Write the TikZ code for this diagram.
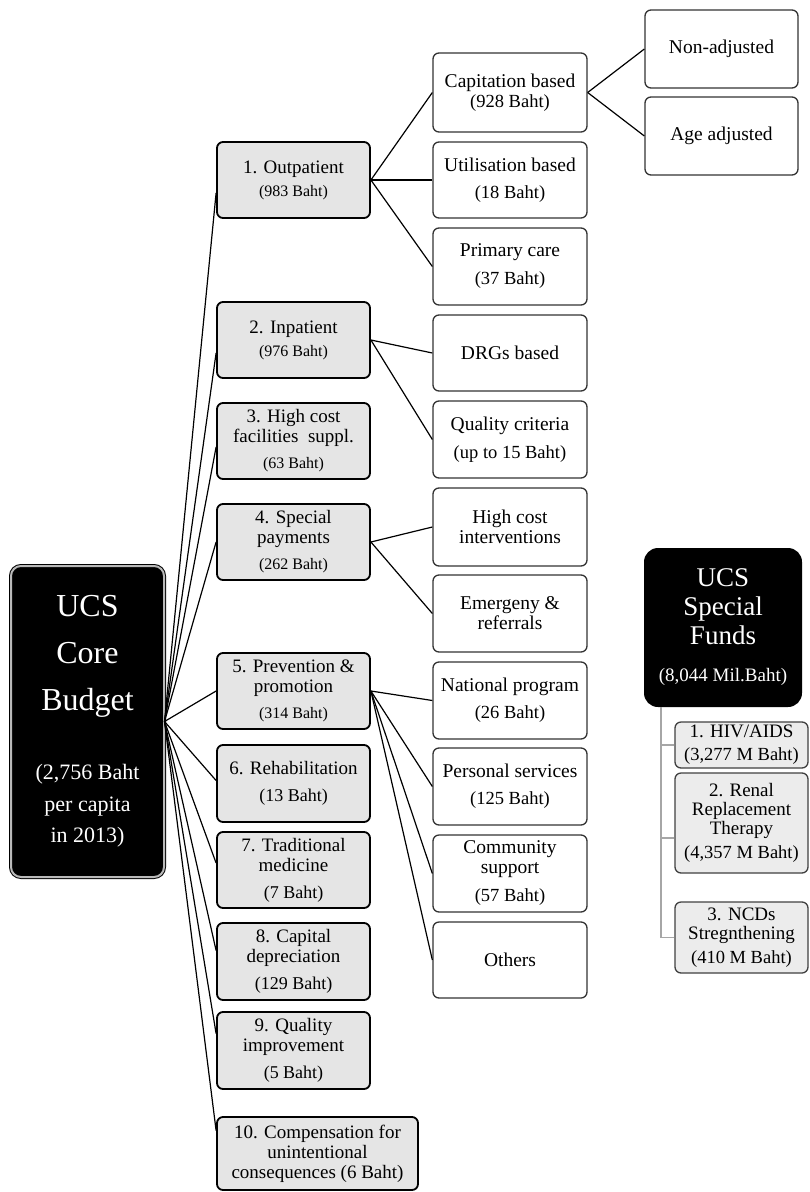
\documentclass[tikz,border=0pt]{standalone}
\usepackage{fontspec}
\setmainfont{Liberation Serif}
\newcommand\fz[2]{\fontsize{#1}{#2}\selectfont}
\newcommand\amA{\fz{16}{16}}
\newcommand\amB{\fz{18}{18}}
\newcommand\amC{\fz{18.5}{19}}
\begin{document}
\begin{tikzpicture}[x=1pt,y=-1pt,
  box/.style={rectangle, rounded corners=6pt, align=center, inner sep=0pt},
  lvtwo/.style={box, draw=black, line width=1.8pt, fill=gray!20, minimum width=153pt, minimum height=76pt, font=\fz{19}{20}},
  lvthree/.style={box, draw=black!80, line width=1.3pt, fill=white, minimum width=154pt, minimum height=77pt, font=\fz{19.5}{20}},
  sidebox/.style={box, draw=black!75, line width=1.3pt, fill=gray!15, minimum width=133pt, font=\fz{19}{19}},
  corebox/.style={rectangle, rounded corners=10pt, fill=black, text=white, draw=black, double=gray!55, double distance=2pt, line width=1pt, align=center, inner sep=0pt, minimum width=153pt, minimum height=311pt, font=\fz{32}{47}},
  fundbox/.style={rectangle, rounded corners=14pt, fill=black, text=white, align=center, inner sep=0pt, minimum width=158pt, minimum height=159pt, font=\fz{27}{29}},
  link/.style={line width=1.2pt, black},
  glink/.style={line width=1.4pt, gray!70}
]
\useasboundingbox (0,0) rectangle (810,1192);

% core
\node[corebox] (core) at (87.5,721.5) {UCS\\Core\\Budget\\[22pt]{\fz{22}{22}(2,756 Baht}\\[-15pt]{\fz{22}{22}per capita}\\[-16pt]{\fz{22}{22}in 2013)}};

% level two
\node[lvtwo] (o1) at (293.5,180) {1. Outpatient\\[3pt]{\amA (983 Baht)}};
\node[lvtwo] (o2) at (293.5,340) {2. Inpatient\\[3pt]{\amA (976 Baht)}};
\node[lvtwo] (o3) at (293.5,441) {3. High cost\\facilities\ \ suppl.\\[6pt]{\amA (63 Baht)}};
\node[lvtwo] (o4) at (293.5,542) {4. Special\\payments\\[6pt]{\amA (262 Baht)}};
\node[lvtwo] (o5) at (293.5,691) {5. Prevention \&\\promotion\\[6pt]{\amA (314 Baht)}};
\node[lvtwo, minimum height=77pt] (o6) at (293.5,783.5) {6. Rehabilitation\\[7pt]{\amB (13 Baht)}};
\node[lvtwo] (o7) at (293.5,870) {7. Traditional\\medicine\\[7pt]{\amB (7 Baht)}};
\node[lvtwo, minimum height=77pt] (o8) at (293.5,961.5) {8. Capital\\depreciation\\[7pt]{\amB (129 Baht)}};
\node[lvtwo, minimum height=77pt] (o9) at (293.5,1050.5) {9. Quality\\improvement\\[7pt]{\amB (5 Baht)}};
\node[lvtwo, minimum width=201pt, minimum height=73pt] (o10) at (317.5,1153.5) {10. Compensation for\\unintentional\\consequences (6 Baht)};

% level three
\node[lvthree, minimum height=79pt] (cap) at (510,92.5) {Capitation based\\{\amC (928 Baht)}};
\node[lvthree, minimum height=76pt] (util) at (510,180) {Utilisation based\\[7pt]{\amC (18 Baht)}};
\node[lvthree] (prim) at (510,266.5) {Primary care\\[8pt]{\amC (37 Baht)}};
\node[lvthree, minimum height=76pt] (drg) at (510,353) {DRGs based};
\node[lvthree] (qual) at (510,439.5) {Quality criteria\\[8pt]{\amC (up to 15 Baht)}};
\node[lvthree, minimum height=78pt] (hci) at (510,527) {High cost\\interventions};
\node[lvthree] (emr) at (510,613.5) {Emergeny \&\\referrals};
\node[lvthree] (nat) at (510,700.5) {National program\\[7pt]{\amC (26 Baht)}};
\node[lvthree] (pers) at (510,786.5) {Personal services\\[7pt]{\amC (125 Baht)}};
\node[lvthree] (comm) at (510,873.5) {Community\\support\\[8pt]{\amC (57 Baht)}};
\node[lvthree, minimum height=76pt] (oth) at (510,960) {Others};

% level four
\node[lvthree, minimum width=153pt, minimum height=78pt] (nonadj) at (721.5,49) {Non-adjusted};
\node[lvthree, minimum width=153pt, minimum height=78pt] (ageadj) at (721.5,136) {Age adjusted};

% special funds
\node[fundbox] (fund) at (723,627.5) {UCS\\Special\\Funds\\[8pt]{\fz{19}{19}(8,044 Mil.Baht)}};
\node[sidebox, minimum height=46pt] (hiv) at (741.5,745) {1. HIV/AIDS\\[4pt]{\amC (3,277 M Baht)}};
\node[sidebox, minimum height=100pt] (renal) at (741.5,823) {2. Renal\\Replacement\\Therapy\\[5pt]{\amC (4,357 M Baht)}};
\node[sidebox, minimum height=71pt] (ncd) at (741.5,937.5) {3. NCDs\\Stregnthening\\[5pt]{\amC (410 M Baht)}};

% connectors core -> level two
\foreach \n/\s in {o1/-13, o2/-13, o3/-6, o4/0, o5/0, o6/3, o7/7, o8/11, o9/17, o10/23}
  \draw[link] (core.east) -- ([yshift=\s pt]\n.west);

% level two -> level three
\foreach \n in {cap,util,prim} \draw[link] (o1.east) -- (\n.west);
\foreach \n in {drg,qual} \draw[link] (o2.east) -- (\n.west);
\foreach \n in {hci,emr} \draw[link] (o4.east) -- (\n.west);
\foreach \n in {nat,pers,comm,oth} \draw[link] (o5.east) -- (\n.west);
\foreach \n in {nonadj,ageadj} \draw[link] (cap.east) -- (\n.west);

% special funds connectors
\coordinate (trunk) at (661,0);
\draw[glink] (fund.south -| trunk) |- (ncd.west);
\draw[glink] (hiv.west -| trunk) -- (hiv.west);
\draw[glink] ([yshift=-15pt]renal.west -| trunk) -- ([yshift=-15pt]renal.west);
\end{tikzpicture}
\end{document}
